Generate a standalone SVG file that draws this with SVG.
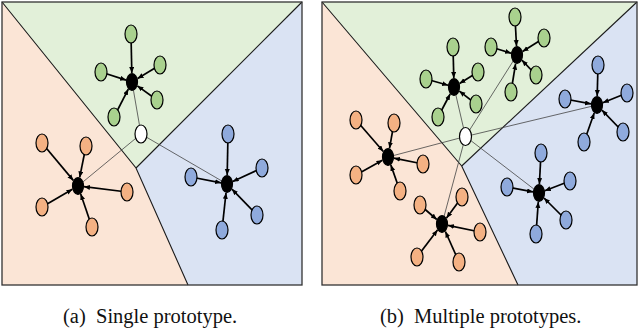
<svg xmlns="http://www.w3.org/2000/svg" width="640" height="329" viewBox="0 0 640 329">
<style>
.or{fill:#FBE5D6}.gr{fill:#E2F0D9}.bl{fill:#DAE3F3}
.bd{fill:none;stroke:#1a1a1a;stroke-width:1.1}
.fr{fill:none;stroke:#333;stroke-width:1.3}
.ar{stroke:#000;stroke-width:1.7;fill:none;marker-end:url(#ah)}
.dl{stroke:#444;stroke-width:0.8;fill:none}
.n{stroke:#000;stroke-width:1.2}
.g{fill:#A9D18E}.o{fill:#F4B183}.b{fill:#8FAADC}.c{fill:#000}.w{fill:#fff}
.cap{font-family:"Liberation Serif","Times New Roman",serif;font-size:20.5px;fill:#111}
</style>
<defs>
<marker id="ah" markerUnits="userSpaceOnUse" markerWidth="7" markerHeight="6" refX="6" refY="2.5" orient="auto">
<path d="M0,0 L6,2.5 L0,5 z" fill="#000"/>
</marker>
</defs>
<g id="background">
<polygon class="or" points="2,2 136,168 188,285 2,285"/>
<polygon class="gr" points="2,2 302,2 136,168"/>
<polygon class="bl" points="302,2 302,285 188,285 136,168"/>
<polyline class="bd" points="2,2 136,168 188,285"/>
<line class="bd" x1="302" y1="2" x2="136" y2="168"/>
<rect class="fr" x="2" y="2" width="300" height="283"/>
<polygon class="or" points="322,2 461.7,166 518,285 322,285"/>
<polygon class="gr" points="322,2 637,2 461.7,166"/>
<polygon class="bl" points="637,2 637,285 518,285 461.7,166"/>
<polyline class="bd" points="322,2 461.7,166 518,285"/>
<line class="bd" x1="637" y1="2" x2="461.7" y2="166"/>
<rect class="fr" x="322" y="2" width="315" height="283"/>
</g>
<g id="connectors">
<!-- left panel dotted -->
<line class="dl" x1="141" y1="134" x2="132" y2="82"/>
<line class="dl" x1="141" y1="134" x2="78" y2="186"/>
<line class="dl" x1="141" y1="134" x2="227" y2="184"/>
<!-- left green -->
<line class="ar" x1="131" y1="34" x2="131.8" y2="73"/>
<line class="ar" x1="101" y1="72" x2="126.1" y2="80.1"/>
<line class="ar" x1="160" y1="65" x2="137.6" y2="78.6"/>
<line class="ar" x1="157" y1="100" x2="137.4" y2="85.9"/>
<line class="ar" x1="114" y1="117" x2="128.3" y2="89.1"/>
<!-- left orange -->
<line class="ar" x1="42" y1="143" x2="73.3" y2="180.4"/>
<line class="ar" x1="86" y1="146" x2="79.7" y2="177.4"/>
<line class="ar" x1="127" y1="192" x2="84" y2="186.7"/>
<line class="ar" x1="42" y1="207" x2="72.4" y2="189.3"/>
<line class="ar" x1="92" y1="227" x2="80.7" y2="194"/>
<!-- left blue -->
<line class="ar" x1="228" y1="134" x2="227.2" y2="175"/>
<line class="ar" x1="191" y1="177" x2="221.1" y2="182.8"/>
<line class="ar" x1="262" y1="168" x2="232.7" y2="181.4"/>
<line class="ar" x1="257" y1="215" x2="231.9" y2="189.1"/>
<line class="ar" x1="222" y1="230" x2="226" y2="192.9"/>
<!-- right panel dotted -->
<line class="dl" x1="465.5" y1="136.5" x2="454" y2="87"/>
<line class="dl" x1="465.5" y1="136.5" x2="517" y2="55"/>
<line class="dl" x1="465.5" y1="136.5" x2="597" y2="105"/>
<line class="dl" x1="465.5" y1="136.5" x2="539" y2="193"/>
<line class="dl" x1="465.5" y1="136.5" x2="388" y2="157"/>
<line class="dl" x1="465.5" y1="136.5" x2="442" y2="224"/>
<!-- right green 1 -->
<line class="ar" x1="453" y1="47" x2="453.8" y2="78"/>
<line class="ar" x1="426" y1="79" x2="448.1" y2="85.3"/>
<line class="ar" x1="478" y1="72" x2="459.5" y2="83.5"/>
<line class="ar" x1="476" y1="104" x2="459.3" y2="91.1"/>
<line class="ar" x1="438" y1="117" x2="450.2" y2="94"/>
<!-- right green 2 -->
<line class="ar" x1="515" y1="17" x2="516.5" y2="46"/>
<line class="ar" x1="491" y1="47" x2="511.1" y2="53.2"/>
<line class="ar" x1="544" y1="38" x2="522.5" y2="51.5"/>
<line class="ar" x1="536" y1="75" x2="521.9" y2="60.2"/>
<line class="ar" x1="511" y1="92" x2="515.6" y2="63.7"/>
<!-- right blue 1 -->
<line class="ar" x1="598" y1="65" x2="597.2" y2="96"/>
<line class="ar" x1="565" y1="99" x2="591" y2="103.9"/>
<line class="ar" x1="627" y1="93" x2="602.8" y2="102.7"/>
<line class="ar" x1="623" y1="132" x2="601.9" y2="110.1"/>
<line class="ar" x1="584" y1="142" x2="594.2" y2="113"/>
<!-- right blue 2 -->
<line class="ar" x1="541" y1="153" x2="539.4" y2="184"/>
<line class="ar" x1="507" y1="187" x2="533" y2="191.9"/>
<line class="ar" x1="570" y1="181" x2="544.8" y2="190.8"/>
<line class="ar" x1="566" y1="220" x2="544" y2="198"/>
<line class="ar" x1="536" y1="234" x2="538.3" y2="201.9"/>
<!-- right orange 1 -->
<line class="ar" x1="356" y1="120" x2="383.3" y2="151.5"/>
<line class="ar" x1="394" y1="123" x2="389.5" y2="148.3"/>
<line class="ar" x1="423" y1="164" x2="394" y2="158.2"/>
<line class="ar" x1="356" y1="175" x2="382.4" y2="160.2"/>
<line class="ar" x1="400" y1="191" x2="390.8" y2="164.9"/>
<!-- right orange 2 -->
<line class="ar" x1="420" y1="205" x2="436.8" y2="219.5"/>
<line class="ar" x1="462" y1="197" x2="446.5" y2="218"/>
<line class="ar" x1="480" y1="232" x2="448" y2="225.3"/>
<line class="ar" x1="417" y1="257" x2="437.5" y2="230"/>
<line class="ar" x1="459" y1="262" x2="445.4" y2="231.5"/>
</g>
<g id="left-green">
<ellipse class="n g" cx="131" cy="34" rx="6" ry="9"/>
<ellipse class="n g" cx="101" cy="72" rx="6" ry="9"/>
<ellipse class="n g" cx="160" cy="65" rx="6" ry="9"/>
<ellipse class="n g" cx="157" cy="100" rx="6" ry="9"/>
<ellipse class="n g" cx="114" cy="117" rx="6" ry="9"/>
<ellipse class="n c" cx="132" cy="82" rx="5.5" ry="8.5"/>
</g>
<g id="left-orange">
<ellipse class="n o" cx="42" cy="143" rx="6" ry="9"/>
<ellipse class="n o" cx="86" cy="146" rx="6" ry="9"/>
<ellipse class="n o" cx="127" cy="192" rx="6" ry="9"/>
<ellipse class="n o" cx="42" cy="207" rx="6" ry="9"/>
<ellipse class="n o" cx="92" cy="227" rx="6" ry="9"/>
<ellipse class="n c" cx="78" cy="186" rx="5.5" ry="8.5"/>
</g>
<g id="left-blue">
<ellipse class="n b" cx="228" cy="134" rx="6" ry="9"/>
<ellipse class="n b" cx="191" cy="177" rx="6" ry="9"/>
<ellipse class="n b" cx="262" cy="168" rx="6" ry="9"/>
<ellipse class="n b" cx="257" cy="215" rx="6" ry="9"/>
<ellipse class="n b" cx="222" cy="230" rx="6" ry="9"/>
<ellipse class="n c" cx="227" cy="184" rx="5.5" ry="8.5"/>
</g>
<g id="left-query">
<ellipse class="n w" cx="141" cy="134" rx="6" ry="9"/>
</g>
<g id="right-green-1">
<ellipse class="n g" cx="453" cy="47" rx="6" ry="9"/>
<ellipse class="n g" cx="426" cy="79" rx="6" ry="9"/>
<ellipse class="n g" cx="478" cy="72" rx="6" ry="9"/>
<ellipse class="n g" cx="476" cy="104" rx="6" ry="9"/>
<ellipse class="n g" cx="438" cy="117" rx="6" ry="9"/>
<ellipse class="n c" cx="454" cy="87" rx="5.5" ry="8.5"/>
</g>
<g id="right-green-2">
<ellipse class="n g" cx="515" cy="17" rx="6" ry="9"/>
<ellipse class="n g" cx="491" cy="47" rx="6" ry="9"/>
<ellipse class="n g" cx="544" cy="38" rx="6" ry="9"/>
<ellipse class="n g" cx="536" cy="75" rx="6" ry="9"/>
<ellipse class="n g" cx="511" cy="92" rx="6" ry="9"/>
<ellipse class="n c" cx="517" cy="55" rx="5.5" ry="8.5"/>
</g>
<g id="right-blue-1">
<ellipse class="n b" cx="598" cy="65" rx="6" ry="9"/>
<ellipse class="n b" cx="565" cy="99" rx="6" ry="9"/>
<ellipse class="n b" cx="627" cy="93" rx="6" ry="9"/>
<ellipse class="n b" cx="623" cy="132" rx="6" ry="9"/>
<ellipse class="n b" cx="584" cy="142" rx="6" ry="9"/>
<ellipse class="n c" cx="597" cy="105" rx="5.5" ry="8.5"/>
</g>
<g id="right-blue-2">
<ellipse class="n b" cx="541" cy="153" rx="6" ry="9"/>
<ellipse class="n b" cx="507" cy="187" rx="6" ry="9"/>
<ellipse class="n b" cx="570" cy="181" rx="6" ry="9"/>
<ellipse class="n b" cx="566" cy="220" rx="6" ry="9"/>
<ellipse class="n b" cx="536" cy="234" rx="6" ry="9"/>
<ellipse class="n c" cx="539" cy="193" rx="5.5" ry="8.5"/>
</g>
<g id="right-orange-1">
<ellipse class="n o" cx="356" cy="120" rx="6" ry="9"/>
<ellipse class="n o" cx="394" cy="123" rx="6" ry="9"/>
<ellipse class="n o" cx="423" cy="164" rx="6" ry="9"/>
<ellipse class="n o" cx="356" cy="175" rx="6" ry="9"/>
<ellipse class="n o" cx="400" cy="191" rx="6" ry="9"/>
<ellipse class="n c" cx="388" cy="157" rx="5.5" ry="8.5"/>
</g>
<g id="right-orange-2">
<ellipse class="n o" cx="420" cy="205" rx="6" ry="9"/>
<ellipse class="n o" cx="462" cy="197" rx="6" ry="9"/>
<ellipse class="n o" cx="480" cy="232" rx="6" ry="9"/>
<ellipse class="n o" cx="417" cy="257" rx="6" ry="9"/>
<ellipse class="n o" cx="459" cy="262" rx="6" ry="9"/>
<ellipse class="n c" cx="442" cy="224" rx="5.5" ry="8.5"/>
</g>
<g id="right-query">
<ellipse class="n w" cx="465.5" cy="136.5" rx="6" ry="9"/>
</g>
<g id="captions">
<text class="cap" y="323"><tspan x="63">(a)</tspan><tspan x="96">Single prototype.</tspan></text>
<text class="cap" y="323"><tspan x="380">(b)</tspan><tspan x="414">Multiple prototypes.</tspan></text>
</g>
</svg>
